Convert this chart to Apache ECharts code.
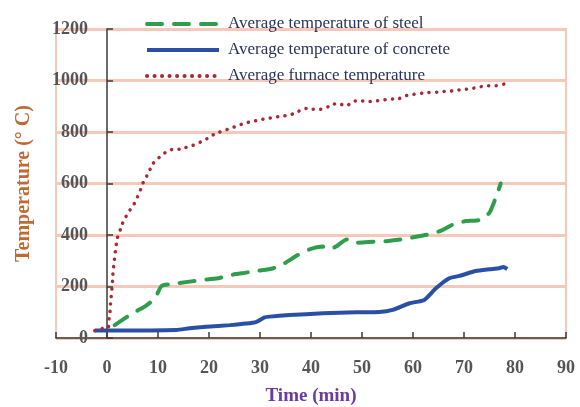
<!DOCTYPE html>
<html>
<head>
<meta charset="utf-8">
<script src="https://cdn.jsdelivr.net/npm/echarts@6/dist/echarts.min.js"></script>
<style>
  html, body { margin: 0; padding: 0; background: #fff; }
  #chart { width: 580px; height: 407px; }
</style>
</head>
<body>
<div id="chart"></div>
<script>
// series names
const seriesNames = [
  'Average temperature of steel',
  'Average temperature of concrete',
  'Average furnace temperature'
]

// steel (green dashed)
const steelTime = [1.5, 5, 7.4, 9.4, 10.7, 13, 16.2, 18.5, 21.8, 24.4, 27, 29.6, 32.5, 34.8, 37.4, 39.7, 42.3, 43.3, 44.9, 47, 48.9, 52.4, 54.7, 58, 60.6, 63.2, 65.5, 68.1, 70.4, 73, 75, 76.3, 77.2]
const steelTemp = [50, 96, 122, 154, 202, 210, 219, 225, 232, 245, 253, 261, 270, 290, 322, 344, 355, 344, 355, 383, 370, 374, 376, 384, 393, 403, 417, 443, 454, 458, 487, 549, 600]

// concrete (blue solid)
const concTime = [-2.4, 0, 13.6, 16.2, 19.5, 24.1, 27.3, 29.3, 30.9, 31.9, 35.8, 42.3, 48.9, 53.4, 56, 59.3, 62.2, 64.5, 67.1, 69.1, 72.3, 75, 76.9, 77.7, 78.5]
const concTemp = [29, 29, 31, 38, 44, 50, 56, 63, 80, 83, 89, 96, 100, 101, 109, 135, 148, 193, 232, 241, 260, 267, 271, 276, 268]

// furnace (red dotted)
const furnTime = [-2.4, -0.7, 0.25, 0.4, 0.6, 0.7, 0.85, 1.0, 1.1, 1.2, 1.37, 1.57, 1.76, 2.0, 2.5, 3.0, 3.7, 4.5, 5.3, 6.0, 6.6, 7.1, 7.9, 8.55, 9.3, 10.4, 11.7, 13, 14.4, 15.9, 17.4, 18.7, 20, 21.3, 22.8, 24.1, 25.5, 26.9, 28.3, 29.9, 31.4, 32.9, 34.4, 35.8, 37.2, 38.7, 40.1, 41.5, 42.9, 44.2, 45.6, 46.9, 48.2, 49.6, 51.1, 52.6, 54.1, 55.6, 57.1, 58.6, 60, 61.4, 62.9, 64.3, 65.8, 67.3, 68.8, 70.3, 71.8, 73.3, 74.8, 76.3, 77.8]
const furnTemp = [28, 38, 41, 76, 106, 137, 167, 199, 228, 261, 292, 325, 355, 387, 413, 443, 471, 497, 520, 549, 577, 604, 633, 659, 685, 704, 724, 733, 733, 743, 752, 765, 778, 795, 804, 814, 823, 834, 840, 847, 853, 857, 862, 866, 876, 892, 888, 888, 892, 909, 909, 901, 918, 922, 918, 920, 924, 928, 929, 941, 946, 950, 953, 954, 957, 959, 963, 966, 970, 976, 980, 980, 986]

// axis ticks
const xTicks = { min: -10, max: 90, step: 10 }
const yTicks = { min: 0, max: 1200, step: 200 }

const pair = (xs, ys) => xs.map((x, i) => [x, ys[i]])

const serif = 'Liberation Serif'
const pink = '#f5c9b9'
const axisDark = '#3a3a3a'
const tickLabel = {
  color: '#555', fontFamily: serif, fontWeight: 'bold', fontSize: 18,
  formatter: v => String(v)
}

const chart = echarts.init(document.getElementById('chart'), null, { renderer: 'canvas' })

chart.setOption({
  backgroundColor: '#fff',
  animation: false,
  grid: {
    left: 56, right: 14, top: 29, bottom: 69,
    outerBoundsMode: 'none', containLabel: false,
    show: true, borderColor: pink, borderWidth: 2
  },
  legend: {
    orient: 'vertical',
    left: 140, top: 10,
    itemWidth: 72, itemHeight: 18, itemGap: 8,
    itemStyle: { opacity: 0 },
    lineStyle: { width: 4 },
    textStyle: {
      color: '#28335a', fontFamily: serif, fontSize: 17, lineHeight: 18,
      padding: [0, 0, 0, 4]
    },
    data: seriesNames
  },
  xAxis: {
    type: 'value',
    min: xTicks.min, max: xTicks.max, interval: xTicks.step,
    name: 'Time (min)',
    nameLocation: 'middle', nameGap: 49, nameMoveOverlap: false,
    nameTextStyle: { color: '#6a3a9c', fontFamily: serif, fontWeight: 'bold', fontSize: 19 },
    axisLine: { onZero: true, lineStyle: { color: axisDark, width: 1.5 } },
    axisTick: { inside: true, length: 6, lineStyle: { color: axisDark, width: 1.5 } },
    axisLabel: Object.assign({ margin: 21 }, tickLabel),
    splitLine: { show: false }
  },
  yAxis: {
    type: 'value',
    min: yTicks.min, max: yTicks.max, interval: yTicks.step,
    name: 'Temperature (° C)',
    nameLocation: 'middle', nameGap: 22, nameRotate: 90, nameMoveOverlap: false,
    nameTextStyle: { color: '#bd6a35', fontFamily: serif, fontWeight: 'bold', fontSize: 20 },
    axisLine: { show: true, onZero: true, lineStyle: { color: axisDark, width: 1.5 } },
    axisTick: { show: true, inside: true, length: 6, lineStyle: { color: axisDark, width: 1.5 } },
    axisLabel: Object.assign({ margin: -32 }, tickLabel),
    splitLine: { show: true, lineStyle: { color: pink, width: 3 } }
  },
  series: [
    {
      name: seriesNames[0], type: 'line', data: pair(steelTime, steelTemp),
      symbol: 'none', smooth: 0.2, z: 3,
      lineStyle: { color: '#2f9e4c', width: 4, type: [15, 12], cap: 'round' },
      itemStyle: { color: '#2f9e4c' }
    },
    {
      name: seriesNames[1], type: 'line', data: pair(concTime, concTemp),
      symbol: 'none', smooth: 0.2, z: 4,
      lineStyle: { color: '#2a50a6', width: 4 },
      itemStyle: { color: '#2a50a6' }
    },
    {
      name: seriesNames[2], type: 'line', data: pair(furnTime, furnTemp),
      symbol: 'none', smooth: 0.2, z: 5,
      lineStyle: { color: '#a82a34', width: 3.5, type: [0.1, 7.4], cap: 'round' },
      itemStyle: { color: '#a82a34' }
    }
  ]
})
</script>
</body>
</html>
